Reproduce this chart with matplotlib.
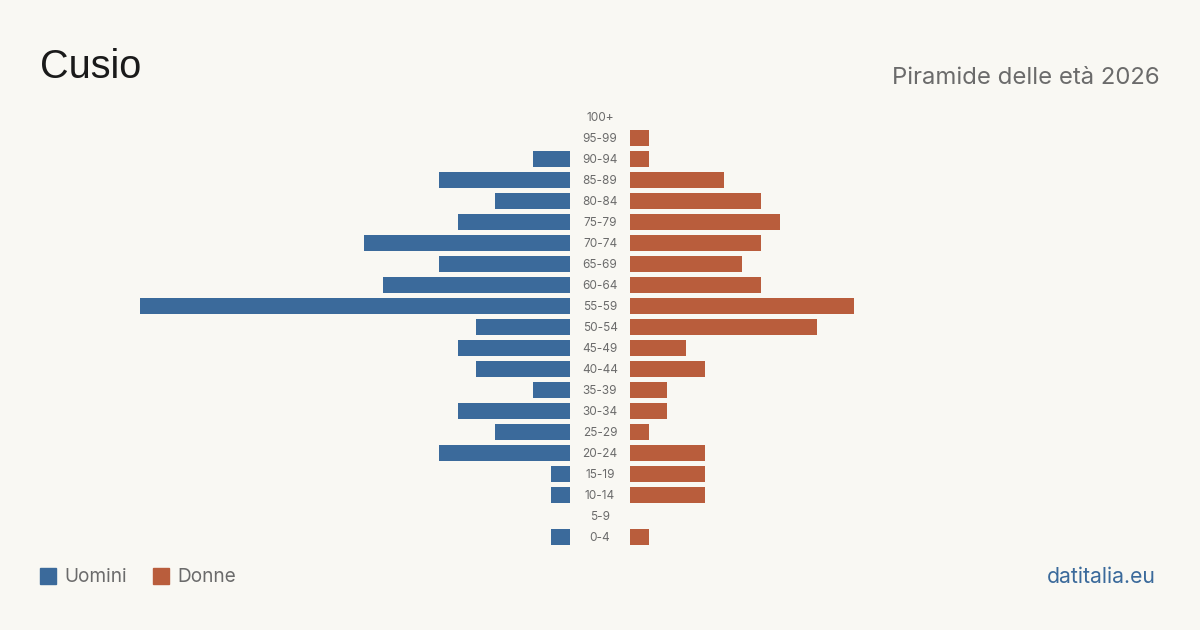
import matplotlib
matplotlib.use("Agg")
import matplotlib.pyplot as plt
from matplotlib.patches import Rectangle

# Age groups, bottom to top
age_groups = ["0-4", "5-9", "10-14", "15-19", "20-24", "25-29", "30-34", "35-39",
              "40-44", "45-49", "50-54", "55-59", "60-64", "65-69", "70-74",
              "75-79", "80-84", "85-89", "90-94", "95-99", "100+"]
men = [1, 0, 1, 1, 7, 4, 6, 2, 5, 6, 5, 23, 10, 7, 11, 6, 4, 7, 2, 0, 0]
women = [1, 0, 4, 4, 4, 1, 2, 2, 4, 3, 10, 12, 7, 6, 7, 8, 7, 5, 1, 1, 0]

BG = "#f9f8f3"
BLUE = "#3b6a9b"
ORANGE = "#b95d3c"
GREY = "#6b6b6b"

W, H = 1200, 630
fig = plt.figure(figsize=(12, 6.3), dpi=100, facecolor=BG)

px_per_unit = 18.7
left_w = 530
bottom = 1 - 547.5 / H
height = (547.5 - 106.5) / H

ax_l = fig.add_axes([(570 - left_w) / W, bottom, left_w / W, height])
ax_r = fig.add_axes([630 / W, bottom, left_w / W, height])

ys = list(range(len(age_groups)))
ax_l.barh(ys, men, height=0.8, color=BLUE)
ax_r.barh(ys, women, height=0.8, color=ORANGE)
ax_l.set_xlim(left_w / px_per_unit, 0)
ax_r.set_xlim(0, left_w / px_per_unit)

for ax in (ax_l, ax_r):
    ax.set_ylim(-0.5, len(age_groups) - 0.5)
    ax.axis("off")

# age labels in the middle gap
for y, lab in zip(ys, age_groups):
    fy = bottom + (y + 0.5) / len(age_groups) * height - 1 / H
    fig.text(600 / W, fy, lab, ha="center", va="center", fontsize=8.5,
             color=GREY, family="Inter")

fig.text(40 / W, 1 - 67 / H, "Cusio", fontsize=28.5, color="#1a1a1a",
         family="Liberation Sans", va="center", ha="left")
fig.text(1160 / W, 1 - 78 / H, "Piramide delle età 2026", fontsize=17.2,
         color=GREY, family="Inter", va="center", ha="right")

# legend
fig.patches.append(Rectangle((40 / W, 1 - 584 / H), 16 / W, 16 / H,
                             transform=fig.transFigure, color=BLUE))
fig.text(64 / W, 1 - 577 / H, "Uomini", fontsize=13.7, color=GREY,
         family="Inter", va="center")
fig.patches.append(Rectangle((153 / W, 1 - 584 / H), 16 / W, 16 / H,
                             transform=fig.transFigure, color=ORANGE))
fig.text(177 / W, 1 - 577 / H, "Donne", fontsize=13.7, color=GREY,
         family="Inter", va="center")

fig.text(1156 / W, 1 - 577 / H, "datitalia.eu", fontsize=15.3, color=BLUE,
         family="Inter", va="center", ha="right")

fig.savefig("out.png", dpi=100, facecolor=BG)
